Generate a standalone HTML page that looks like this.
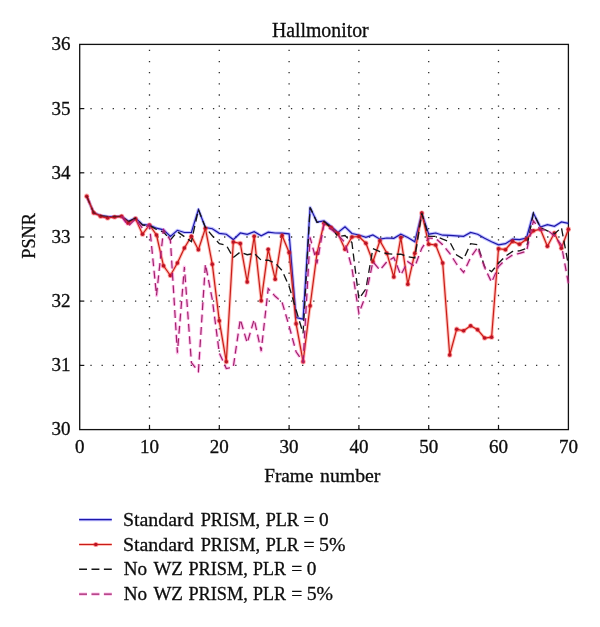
<!DOCTYPE html>
<html lang="en"><head><meta charset="utf-8"><title>Hallmonitor</title>
<style>
html,body{margin:0;padding:0;background:#fff;}
body{width:600px;height:627px;overflow:hidden;}
svg{display:block;}
text{font-family:"Liberation Serif", serif;fill:#0d0d0d;stroke:#0d0d0d;stroke-width:0.3px;}
.t{font-size:19px;}
</style></head><body>
<svg width="600" height="627" viewBox="0 0 600 627">
<rect width="600" height="627" fill="#ffffff"/>
<g stroke="#2e2e2e" stroke-width="1.3" stroke-dasharray="1.3 9.84" stroke-linecap="butt" fill="none"><line stroke-dashoffset="0.25" x1="149.5" y1="429.6" x2="149.5" y2="44.4"/><line stroke-dashoffset="0.25" x1="219.3" y1="429.6" x2="219.3" y2="44.4"/><line stroke-dashoffset="0.25" x1="289.1" y1="429.6" x2="289.1" y2="44.4"/><line stroke-dashoffset="0.25" x1="358.9" y1="429.6" x2="358.9" y2="44.4"/><line stroke-dashoffset="0.25" x1="428.7" y1="429.6" x2="428.7" y2="44.4"/><line stroke-dashoffset="0.25" x1="498.5" y1="429.6" x2="498.5" y2="44.4"/><line stroke-dashoffset="0.45" x1="79.7" y1="365.4" x2="568.4" y2="365.4"/><line stroke-dashoffset="0.45" x1="79.7" y1="301.1" x2="568.4" y2="301.1"/><line stroke-dashoffset="0.45" x1="79.7" y1="237.0" x2="568.4" y2="237.0"/><line stroke-dashoffset="0.45" x1="79.7" y1="172.8" x2="568.4" y2="172.8"/><line stroke-dashoffset="0.45" x1="79.7" y1="108.6" x2="568.4" y2="108.6"/></g>
<rect x="79.7" y="44.4" width="488.7" height="385.2" fill="none" stroke="#111" stroke-width="1.3"/>
<g stroke="#111" stroke-width="1.2"><line x1="149.5" y1="429.6" x2="149.5" y2="424.9"/><line x1="219.3" y1="429.6" x2="219.3" y2="424.9"/><line x1="289.1" y1="429.6" x2="289.1" y2="424.9"/><line x1="358.9" y1="429.6" x2="358.9" y2="424.9"/><line x1="428.7" y1="429.6" x2="428.7" y2="424.9"/><line x1="498.5" y1="429.6" x2="498.5" y2="424.9"/><line x1="79.7" y1="365.4" x2="84.3" y2="365.4"/><line x1="79.7" y1="301.1" x2="84.3" y2="301.1"/><line x1="79.7" y1="237.0" x2="84.3" y2="237.0"/><line x1="79.7" y1="172.8" x2="84.3" y2="172.8"/><line x1="79.7" y1="108.6" x2="84.3" y2="108.6"/></g>
<polyline points="86.7,196.2 93.7,212.8 100.6,215.5 107.6,216.5 114.6,216.5 121.6,216.3 128.6,221.3 135.5,218.0 142.5,224.7 149.5,225.0 156.5,228.2 163.5,229.8 170.4,236.5 177.4,230.3 184.4,232.5 191.4,232.5 198.4,209.5 205.4,227.5 212.3,228.7 219.3,233.3 226.3,234.2 233.3,239.6 240.3,233.0 247.2,234.4 254.2,231.7 261.2,235.8 268.2,232.2 275.2,233.0 282.1,233.2 289.1,233.8 296.1,317.5 303.1,319.2 310.1,207.4 317.0,222.0 324.0,220.8 331.0,226.3 338.0,232.5 345.0,226.7 351.9,233.5 358.9,235.0 365.9,237.3 372.9,235.0 379.9,239.2 386.9,238.0 393.8,238.3 400.8,234.2 407.8,237.5 414.8,241.7 421.8,213.1 428.7,234.2 435.7,233.0 442.7,235.2 449.7,235.3 456.7,235.8 463.6,236.3 470.6,232.5 477.6,234.2 484.6,238.3 491.6,241.7 498.5,244.8 505.5,243.7 512.5,239.2 519.5,239.7 526.5,238.0 533.4,213.1 540.4,227.0 547.4,224.7 554.4,226.3 561.4,222.0 568.4,223.3" fill="none" stroke="#3030ff" stroke-opacity="0.30" stroke-width="3.20" stroke-linejoin="round"/>
<polyline points="86.7,196.2 93.7,212.8 100.6,215.5 107.6,216.5 114.6,216.5 121.6,216.3 128.6,221.3 135.5,218.0 142.5,224.7 149.5,225.0 156.5,228.2 163.5,229.8 170.4,236.5 177.4,230.3 184.4,232.5 191.4,232.5 198.4,209.5 205.4,227.5 212.3,228.7 219.3,233.3 226.3,234.2 233.3,239.6 240.3,233.0 247.2,234.4 254.2,231.7 261.2,235.8 268.2,232.2 275.2,233.0 282.1,233.2 289.1,233.8 296.1,317.5 303.1,319.2 310.1,207.4 317.0,222.0 324.0,220.8 331.0,226.3 338.0,232.5 345.0,226.7 351.9,233.5 358.9,235.0 365.9,237.3 372.9,235.0 379.9,239.2 386.9,238.0 393.8,238.3 400.8,234.2 407.8,237.5 414.8,241.7 421.8,213.1 428.7,234.2 435.7,233.0 442.7,235.2 449.7,235.3 456.7,235.8 463.6,236.3 470.6,232.5 477.6,234.2 484.6,238.3 491.6,241.7 498.5,244.8 505.5,243.7 512.5,239.2 519.5,239.7 526.5,238.0 533.4,213.1 540.4,227.0 547.4,224.7 554.4,226.3 561.4,222.0 568.4,223.3" fill="none" stroke="#1d17a8" stroke-width="1.20"/>
<polyline points="86.7,196.2 93.7,212.8 100.6,216.3 107.6,218.0 114.6,217.0 121.6,216.3 128.6,225.8" fill="none" stroke="#ff30c4" stroke-opacity="0.30" stroke-width="3.20" stroke-linejoin="round" stroke-dasharray="7.9 4.5"/>
<polyline points="86.7,196.2 93.7,212.8 100.6,216.3 107.6,218.0 114.6,217.0 121.6,216.3 128.6,225.8" fill="none" stroke="#a0226a" stroke-width="1.20" stroke-dasharray="7.9 4.5"/>
<polyline points="86.7,196.2 93.7,212.8 100.6,216.3 107.6,218.0 114.6,217.0 121.6,216.3 128.6,223.0 135.5,218.7 142.5,234.2 149.5,225.0 156.5,235.0 163.5,265.8 170.4,275.5 177.4,263.0 184.4,248.0 191.4,236.3 198.4,249.7 205.4,228.3 212.3,264.2 219.3,320.8 226.3,361.7 233.3,242.0 240.3,243.4 247.2,281.9 254.2,236.3 261.2,300.8 268.2,249.3 275.2,279.2 282.1,235.5 289.1,252.5 296.1,323.7 303.1,361.7 310.1,305.8 317.0,253.3 324.0,223.3 331.0,227.5 338.0,233.7 345.0,249.2 351.9,237.0 358.9,236.5 365.9,243.2 372.9,261.7 379.9,240.8 386.9,253.3 393.8,277.0 400.8,237.5 407.8,284.2 414.8,253.3 421.8,213.0 428.7,244.2 435.7,245.0 442.7,263.0 449.7,355.0 456.7,329.2 463.6,330.8 470.6,325.8 477.6,329.7 484.6,338.0 491.6,337.2 498.5,248.7 505.5,249.7 512.5,241.3 519.5,244.2 526.5,239.2 533.4,230.8 540.4,229.2 547.4,246.3 554.4,233.0 561.4,248.3 568.4,229.2" fill="none" stroke="#ff2a18" stroke-opacity="0.30" stroke-width="3.20" stroke-linejoin="round"/>
<polyline points="86.7,196.2 93.7,212.8 100.6,216.3 107.6,218.0 114.6,217.0 121.6,216.3 128.6,223.0 135.5,218.7 142.5,234.2 149.5,225.0 156.5,235.0 163.5,265.8 170.4,275.5 177.4,263.0 184.4,248.0 191.4,236.3 198.4,249.7 205.4,228.3 212.3,264.2 219.3,320.8 226.3,361.7 233.3,242.0 240.3,243.4 247.2,281.9 254.2,236.3 261.2,300.8 268.2,249.3 275.2,279.2 282.1,235.5 289.1,252.5 296.1,323.7 303.1,361.7 310.1,305.8 317.0,253.3 324.0,223.3 331.0,227.5 338.0,233.7 345.0,249.2 351.9,237.0 358.9,236.5 365.9,243.2 372.9,261.7 379.9,240.8 386.9,253.3 393.8,277.0 400.8,237.5 407.8,284.2 414.8,253.3 421.8,213.0 428.7,244.2 435.7,245.0 442.7,263.0 449.7,355.0 456.7,329.2 463.6,330.8 470.6,325.8 477.6,329.7 484.6,338.0 491.6,337.2 498.5,248.7 505.5,249.7 512.5,241.3 519.5,244.2 526.5,239.2 533.4,230.8 540.4,229.2 547.4,246.3 554.4,233.0 561.4,248.3 568.4,229.2" fill="none" stroke="#c81c18" stroke-width="1.20"/>
<g fill="#ff2020" fill-opacity="0.4"><circle cx="86.7" cy="196.2" r="2.6"/><circle cx="93.7" cy="212.8" r="2.6"/><circle cx="100.6" cy="216.3" r="2.6"/><circle cx="107.6" cy="218.0" r="2.6"/><circle cx="114.6" cy="217.0" r="2.6"/><circle cx="121.6" cy="216.3" r="2.6"/><circle cx="128.6" cy="223.0" r="2.6"/><circle cx="135.5" cy="218.7" r="2.6"/><circle cx="142.5" cy="234.2" r="2.6"/><circle cx="149.5" cy="225.0" r="2.6"/><circle cx="156.5" cy="235.0" r="2.6"/><circle cx="163.5" cy="265.8" r="2.6"/><circle cx="170.4" cy="275.5" r="2.6"/><circle cx="177.4" cy="263.0" r="2.6"/><circle cx="184.4" cy="248.0" r="2.6"/><circle cx="191.4" cy="236.3" r="2.6"/><circle cx="198.4" cy="249.7" r="2.6"/><circle cx="205.4" cy="228.3" r="2.6"/><circle cx="212.3" cy="264.2" r="2.6"/><circle cx="219.3" cy="320.8" r="2.6"/><circle cx="226.3" cy="361.7" r="2.6"/><circle cx="233.3" cy="242.0" r="2.6"/><circle cx="240.3" cy="243.4" r="2.6"/><circle cx="247.2" cy="281.9" r="2.6"/><circle cx="254.2" cy="236.3" r="2.6"/><circle cx="261.2" cy="300.8" r="2.6"/><circle cx="268.2" cy="249.3" r="2.6"/><circle cx="275.2" cy="279.2" r="2.6"/><circle cx="282.1" cy="235.5" r="2.6"/><circle cx="289.1" cy="252.5" r="2.6"/><circle cx="296.1" cy="323.7" r="2.6"/><circle cx="303.1" cy="361.7" r="2.6"/><circle cx="310.1" cy="305.8" r="2.6"/><circle cx="317.0" cy="253.3" r="2.6"/><circle cx="324.0" cy="223.3" r="2.6"/><circle cx="331.0" cy="227.5" r="2.6"/><circle cx="338.0" cy="233.7" r="2.6"/><circle cx="345.0" cy="249.2" r="2.6"/><circle cx="351.9" cy="237.0" r="2.6"/><circle cx="358.9" cy="236.5" r="2.6"/><circle cx="365.9" cy="243.2" r="2.6"/><circle cx="372.9" cy="261.7" r="2.6"/><circle cx="379.9" cy="240.8" r="2.6"/><circle cx="386.9" cy="253.3" r="2.6"/><circle cx="393.8" cy="277.0" r="2.6"/><circle cx="400.8" cy="237.5" r="2.6"/><circle cx="407.8" cy="284.2" r="2.6"/><circle cx="414.8" cy="253.3" r="2.6"/><circle cx="421.8" cy="213.0" r="2.6"/><circle cx="428.7" cy="244.2" r="2.6"/><circle cx="435.7" cy="245.0" r="2.6"/><circle cx="442.7" cy="263.0" r="2.6"/><circle cx="449.7" cy="355.0" r="2.6"/><circle cx="456.7" cy="329.2" r="2.6"/><circle cx="463.6" cy="330.8" r="2.6"/><circle cx="470.6" cy="325.8" r="2.6"/><circle cx="477.6" cy="329.7" r="2.6"/><circle cx="484.6" cy="338.0" r="2.6"/><circle cx="491.6" cy="337.2" r="2.6"/><circle cx="498.5" cy="248.7" r="2.6"/><circle cx="505.5" cy="249.7" r="2.6"/><circle cx="512.5" cy="241.3" r="2.6"/><circle cx="519.5" cy="244.2" r="2.6"/><circle cx="526.5" cy="239.2" r="2.6"/><circle cx="533.4" cy="230.8" r="2.6"/><circle cx="540.4" cy="229.2" r="2.6"/><circle cx="547.4" cy="246.3" r="2.6"/><circle cx="554.4" cy="233.0" r="2.6"/><circle cx="561.4" cy="248.3" r="2.6"/><circle cx="568.4" cy="229.2" r="2.6"/></g>
<g fill="#b81426"><circle cx="86.7" cy="196.2" r="1.75"/><circle cx="93.7" cy="212.8" r="1.75"/><circle cx="100.6" cy="216.3" r="1.75"/><circle cx="107.6" cy="218.0" r="1.75"/><circle cx="114.6" cy="217.0" r="1.75"/><circle cx="121.6" cy="216.3" r="1.75"/><circle cx="128.6" cy="223.0" r="1.75"/><circle cx="135.5" cy="218.7" r="1.75"/><circle cx="142.5" cy="234.2" r="1.75"/><circle cx="149.5" cy="225.0" r="1.75"/><circle cx="156.5" cy="235.0" r="1.75"/><circle cx="163.5" cy="265.8" r="1.75"/><circle cx="170.4" cy="275.5" r="1.75"/><circle cx="177.4" cy="263.0" r="1.75"/><circle cx="184.4" cy="248.0" r="1.75"/><circle cx="191.4" cy="236.3" r="1.75"/><circle cx="198.4" cy="249.7" r="1.75"/><circle cx="205.4" cy="228.3" r="1.75"/><circle cx="212.3" cy="264.2" r="1.75"/><circle cx="219.3" cy="320.8" r="1.75"/><circle cx="226.3" cy="361.7" r="1.75"/><circle cx="233.3" cy="242.0" r="1.75"/><circle cx="240.3" cy="243.4" r="1.75"/><circle cx="247.2" cy="281.9" r="1.75"/><circle cx="254.2" cy="236.3" r="1.75"/><circle cx="261.2" cy="300.8" r="1.75"/><circle cx="268.2" cy="249.3" r="1.75"/><circle cx="275.2" cy="279.2" r="1.75"/><circle cx="282.1" cy="235.5" r="1.75"/><circle cx="289.1" cy="252.5" r="1.75"/><circle cx="296.1" cy="323.7" r="1.75"/><circle cx="303.1" cy="361.7" r="1.75"/><circle cx="310.1" cy="305.8" r="1.75"/><circle cx="317.0" cy="253.3" r="1.75"/><circle cx="324.0" cy="223.3" r="1.75"/><circle cx="331.0" cy="227.5" r="1.75"/><circle cx="338.0" cy="233.7" r="1.75"/><circle cx="345.0" cy="249.2" r="1.75"/><circle cx="351.9" cy="237.0" r="1.75"/><circle cx="358.9" cy="236.5" r="1.75"/><circle cx="365.9" cy="243.2" r="1.75"/><circle cx="372.9" cy="261.7" r="1.75"/><circle cx="379.9" cy="240.8" r="1.75"/><circle cx="386.9" cy="253.3" r="1.75"/><circle cx="393.8" cy="277.0" r="1.75"/><circle cx="400.8" cy="237.5" r="1.75"/><circle cx="407.8" cy="284.2" r="1.75"/><circle cx="414.8" cy="253.3" r="1.75"/><circle cx="421.8" cy="213.0" r="1.75"/><circle cx="428.7" cy="244.2" r="1.75"/><circle cx="435.7" cy="245.0" r="1.75"/><circle cx="442.7" cy="263.0" r="1.75"/><circle cx="449.7" cy="355.0" r="1.75"/><circle cx="456.7" cy="329.2" r="1.75"/><circle cx="463.6" cy="330.8" r="1.75"/><circle cx="470.6" cy="325.8" r="1.75"/><circle cx="477.6" cy="329.7" r="1.75"/><circle cx="484.6" cy="338.0" r="1.75"/><circle cx="491.6" cy="337.2" r="1.75"/><circle cx="498.5" cy="248.7" r="1.75"/><circle cx="505.5" cy="249.7" r="1.75"/><circle cx="512.5" cy="241.3" r="1.75"/><circle cx="519.5" cy="244.2" r="1.75"/><circle cx="526.5" cy="239.2" r="1.75"/><circle cx="533.4" cy="230.8" r="1.75"/><circle cx="540.4" cy="229.2" r="1.75"/><circle cx="547.4" cy="246.3" r="1.75"/><circle cx="554.4" cy="233.0" r="1.75"/><circle cx="561.4" cy="248.3" r="1.75"/><circle cx="568.4" cy="229.2" r="1.75"/></g>
<polyline points="86.7,196.2 93.7,212.8 100.6,215.5 107.6,216.5 114.6,216.5 121.6,216.3 128.6,221.5" fill="none" stroke="#161616" stroke-opacity="0.5" stroke-width="1.35" stroke-dasharray="7.9 4.5"/>
<polyline points="128.6,221.5 135.5,218.2 142.5,225.0 149.5,225.5 156.5,229.5 163.5,232.0 170.4,240.0 177.4,231.7 184.4,236.7 191.4,241.7 198.4,209.4 205.4,227.5 212.3,235.8 219.3,243.7 226.3,245.3 233.3,257.5 240.3,252.0 247.2,254.7 254.2,253.4 261.2,260.2 268.2,260.2 275.2,263.0 282.1,270.5 289.1,286.3 296.1,310.0 303.1,333.3 310.1,207.5 317.0,222.3 324.0,221.5 331.0,227.5 338.0,236.7 345.0,235.5 351.9,242.5 358.9,299.0 365.9,289.0 372.9,248.5 379.9,251.7 386.9,253.7 393.8,254.2 400.8,254.2 407.8,256.7 414.8,258.0 421.8,213.3 428.7,236.3 435.7,236.3 442.7,239.2 449.7,241.7 456.7,255.0 463.6,259.2 470.6,243.7 477.6,244.7 484.6,266.7 491.6,271.7 498.5,263.3 505.5,256.2 512.5,251.5 519.5,250.8 526.5,248.3 533.4,213.3 540.4,227.5 547.4,230.8 554.4,234.0 561.4,227.5 568.4,265.0" fill="none" stroke="#161616" stroke-width="1.35" stroke-dasharray="7.9 4.5"/>
<polyline points="121.6,216.3 128.6,225.8 135.5,219.0 142.5,228.3 149.5,225.0 156.5,295.5 163.5,229.7 170.4,240.3 177.4,352.8 184.4,267.0 191.4,362.5 198.4,371.5 205.4,264.2 212.3,299.5 219.3,353.0 226.3,368.5 233.3,367.0 240.3,319.3 247.2,342.9 254.2,319.5 261.2,351.0 268.2,288.6 275.2,296.3 282.1,302.3 289.1,326.0 296.1,351.8 303.1,361.7 310.1,237.5 317.0,263.3 324.0,224.2 331.0,229.2 338.0,235.0 345.0,242.5 351.9,268.0 358.9,313.3 365.9,295.0 372.9,261.7 379.9,270.0 386.9,261.7 393.8,257.5 400.8,275.0 407.8,261.7 414.8,266.5 421.8,248.3 428.7,238.0 435.7,238.5 442.7,244.7 449.7,253.3 456.7,264.2 463.6,272.5 470.6,257.5 477.6,247.5 484.6,267.5 491.6,282.3 498.5,266.5 505.5,259.6 512.5,255.0 519.5,253.3 526.5,251.3 533.4,220.8 540.4,230.0 547.4,230.0 554.4,236.0 561.4,245.0 568.4,283.3" fill="none" stroke="#ff30c4" stroke-opacity="0.30" stroke-width="3.20" stroke-linejoin="round" stroke-dasharray="7.9 4.5"/>
<polyline points="121.6,216.3 128.6,225.8 135.5,219.0 142.5,228.3 149.5,225.0 156.5,295.5 163.5,229.7 170.4,240.3 177.4,352.8 184.4,267.0 191.4,362.5 198.4,371.5 205.4,264.2 212.3,299.5 219.3,353.0 226.3,368.5 233.3,367.0 240.3,319.3 247.2,342.9 254.2,319.5 261.2,351.0 268.2,288.6 275.2,296.3 282.1,302.3 289.1,326.0 296.1,351.8 303.1,361.7 310.1,237.5 317.0,263.3 324.0,224.2 331.0,229.2 338.0,235.0 345.0,242.5 351.9,268.0 358.9,313.3 365.9,295.0 372.9,261.7 379.9,270.0 386.9,261.7 393.8,257.5 400.8,275.0 407.8,261.7 414.8,266.5 421.8,248.3 428.7,238.0 435.7,238.5 442.7,244.7 449.7,253.3 456.7,264.2 463.6,272.5 470.6,257.5 477.6,247.5 484.6,267.5 491.6,282.3 498.5,266.5 505.5,259.6 512.5,255.0 519.5,253.3 526.5,251.3 533.4,220.8 540.4,230.0 547.4,230.0 554.4,236.0 561.4,245.0 568.4,283.3" fill="none" stroke="#a0226a" stroke-width="1.20" stroke-dasharray="7.9 4.5"/>
<text font-size="20.0" y="36.70"><tspan x="271.90" textLength="96.76" lengthAdjust="spacingAndGlyphs">Hallmonitor</tspan></text>
<text class="t" x="70.5" y="435.4" text-anchor="end">30</text>
<text class="t" x="70.5" y="371.2" text-anchor="end">31</text>
<text class="t" x="70.5" y="307.0" text-anchor="end">32</text>
<text class="t" x="70.5" y="242.9" text-anchor="end">33</text>
<text class="t" x="70.5" y="178.7" text-anchor="end">34</text>
<text class="t" x="70.5" y="114.5" text-anchor="end">35</text>
<text class="t" x="70.5" y="50.3" text-anchor="end">36</text>
<text class="t" x="79.7" y="452.6" text-anchor="middle">0</text>
<text class="t" x="149.5" y="452.6" text-anchor="middle">10</text>
<text class="t" x="219.3" y="452.6" text-anchor="middle">20</text>
<text class="t" x="289.1" y="452.6" text-anchor="middle">30</text>
<text class="t" x="358.9" y="452.6" text-anchor="middle">40</text>
<text class="t" x="428.7" y="452.6" text-anchor="middle">50</text>
<text class="t" x="498.5" y="452.6" text-anchor="middle">60</text>
<text class="t" x="568.4" y="452.6" text-anchor="middle">70</text>
<text font-size="19.6" y="481.90"><tspan x="264.22" textLength="49.13" lengthAdjust="spacingAndGlyphs">Frame</tspan> <tspan x="320.00" textLength="60.45" lengthAdjust="spacingAndGlyphs">number</tspan></text>
<text font-size="19.2" transform="translate(35.3 258.76) rotate(-90) scale(0.9498 1)">PSNR</text>
<polyline points="79.1,519.7 111.8,519.7" fill="none" stroke="#3030ff" stroke-opacity="0.30" stroke-width="3.20" stroke-linejoin="round"/>
<polyline points="79.1,519.7 111.8,519.7" fill="none" stroke="#1d17a8" stroke-width="1.20"/>
<polyline points="79.1,544.5 111.8,544.5" fill="none" stroke="#ff2a18" stroke-opacity="0.30" stroke-width="3.20" stroke-linejoin="round"/>
<polyline points="79.1,544.5 111.8,544.5" fill="none" stroke="#c81c18" stroke-width="1.20"/>
<circle cx="95.8" cy="544.5" r="2.6" fill="#ff2020" fill-opacity="0.4"/><circle cx="95.8" cy="544.5" r="1.75" fill="#b81426"/>
<line x1="79.1" y1="569.2" x2="111.8" y2="569.2" stroke="#161616" stroke-width="1.35" stroke-dasharray="7.9 4.5"/>
<polyline points="79.1,594.2 111.8,594.2" fill="none" stroke="#ff30c4" stroke-opacity="0.30" stroke-width="3.20" stroke-linejoin="round" stroke-dasharray="7.9 4.5"/>
<polyline points="79.1,594.2 111.8,594.2" fill="none" stroke="#a0226a" stroke-width="1.20" stroke-dasharray="7.9 4.5"/>
<text font-size="19.4" y="526.30"><tspan x="122.91" textLength="70.69" lengthAdjust="spacingAndGlyphs">Standard</tspan> <tspan x="200.63" textLength="59.46" lengthAdjust="spacingAndGlyphs">PRISM,</tspan> <tspan x="265.64" textLength="33.31" lengthAdjust="spacingAndGlyphs">PLR</tspan> <tspan x="303.62" textLength="11.05" lengthAdjust="spacingAndGlyphs">=</tspan> <tspan x="319.12" textLength="9.66" lengthAdjust="spacingAndGlyphs">0</tspan></text>
<text font-size="19.4" y="550.80"><tspan x="122.91" textLength="70.69" lengthAdjust="spacingAndGlyphs">Standard</tspan> <tspan x="200.63" textLength="59.46" lengthAdjust="spacingAndGlyphs">PRISM,</tspan> <tspan x="265.64" textLength="33.31" lengthAdjust="spacingAndGlyphs">PLR</tspan> <tspan x="303.62" textLength="11.05" lengthAdjust="spacingAndGlyphs">=</tspan> <tspan x="319.01" textLength="26.45" lengthAdjust="spacingAndGlyphs">5%</tspan></text>
<text font-size="19.4" y="575.40"><tspan x="123.72" textLength="23.46" lengthAdjust="spacingAndGlyphs">No</tspan> <tspan x="153.40" textLength="29.56" lengthAdjust="spacingAndGlyphs">WZ</tspan> <tspan x="188.43" textLength="59.36" lengthAdjust="spacingAndGlyphs">PRISM,</tspan> <tspan x="252.94" textLength="32.91" lengthAdjust="spacingAndGlyphs">PLR</tspan> <tspan x="291.32" textLength="11.04" lengthAdjust="spacingAndGlyphs">=</tspan> <tspan x="306.82" textLength="9.66" lengthAdjust="spacingAndGlyphs">0</tspan></text>
<text font-size="19.4" y="600.00"><tspan x="123.72" textLength="23.46" lengthAdjust="spacingAndGlyphs">No</tspan> <tspan x="153.40" textLength="29.56" lengthAdjust="spacingAndGlyphs">WZ</tspan> <tspan x="188.43" textLength="59.36" lengthAdjust="spacingAndGlyphs">PRISM,</tspan> <tspan x="252.94" textLength="32.91" lengthAdjust="spacingAndGlyphs">PLR</tspan> <tspan x="291.32" textLength="11.04" lengthAdjust="spacingAndGlyphs">=</tspan> <tspan x="306.71" textLength="26.45" lengthAdjust="spacingAndGlyphs">5%</tspan></text>
</svg>
</body></html>
